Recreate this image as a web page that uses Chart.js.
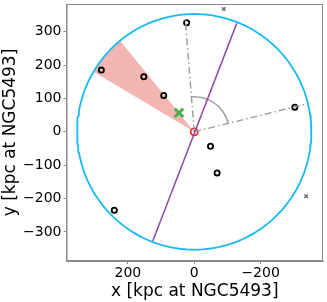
<!DOCTYPE html>
<html>
<head>
<meta charset="utf-8">
<script src="https://cdn.jsdelivr.net/npm/chart.js@4.4.1/dist/chart.umd.min.js"></script>
<style>
  html, body { margin: 0; padding: 0; background: #fff; }
  #wrap { width: 327px; height: 302px; }
</style>
</head>
<body>
<div id="wrap"><canvas id="c"></canvas></div>
<script>
// satellites (black open circles)
const satX = [23, 280, 152, 92, -303, -49, -69, 241];
const satY = [327, 185, 165, 109, 74, -43, -123, -235];
// background objects (grey crosses)
const bgX = [-89, -337];
const bgY = [368, -193];
// green cross
const comX = [46];
const comY = [57];
// host at origin
const hostX = [0];
const hostY = [0];

const viewRadius = 353;
// purple axis endpoints
const axisX = [125, -128];
const axisY = [-327, 325];
// dash-dot rays (from origin)
const rayX = [28, -339];
const rayY = [347, 84];
// angle arc
const arcRadius = 105;
const arcAngles = [85.4, 166]; // degrees
// red wedge
const wedgeAngles = [30.7, 51]; // degrees

const xTicks = [200, 0, -200];
const yTicks = [-300, -200, -100, 0, 100, 200, 300];

const toPts = (xs, ys) => xs.map((x, i) => ({ x: x, y: ys[i] }));

function ringPts(r, a0, a1) {
  var pts = [];
  for (var a = a0; a <= a1 + 0.001; a += 2) {
    var t = a * Math.PI / 180;
    pts.push({ x: r * Math.cos(t), y: r * Math.sin(t) });
  }
  return pts;
}

const fmt = (v) => String(v).replace("-", "\u2212");

const framePlugin = {
  id: "frame",
  beforeDatasetsDraw(chart) {
    const { ctx, scales } = chart;
    const x = scales.x, y = scales.y;
    // wedge
    ctx.save();
    ctx.beginPath();
    ctx.moveTo(x.getPixelForValue(0), y.getPixelForValue(0));
    for (var a = wedgeAngles[0]; a <= wedgeAngles[1] + 0.001; a += 1) {
      var t = a * Math.PI / 180;
      ctx.lineTo(x.getPixelForValue(viewRadius * Math.cos(t)), y.getPixelForValue(viewRadius * Math.sin(t)));
    }
    ctx.closePath();
    ctx.fillStyle = "rgba(234,110,104,0.5)";
    ctx.fill();
    ctx.restore();
  },
  afterDraw(chart) {
    const { ctx, chartArea } = chart;
    ctx.save();
    ctx.strokeStyle = "#8a8a8a";
    ctx.lineWidth = 1;
    ctx.strokeRect(chartArea.left + 0.5, chartArea.top + 0.5, chartArea.right - chartArea.left - 1, chartArea.bottom - chartArea.top - 1);
    ctx.restore();
  },
};

const lineDs = (data, color, width, dash) => ({
  type: "scatter",
  data: data,
  showLine: true,
  borderColor: color,
  borderWidth: width,
  borderDash: dash || [],
  borderJoinStyle: "round",
  pointRadius: 0,
  fill: false,
});

new Chart(document.getElementById("c"), {
  type: "scatter",
  data: {
    datasets: [
      lineDs(ringPts(viewRadius, -90, 272), "#16baf2", 1.8),
      lineDs(toPts(axisX, axisY), "#9448a6", 1.5),
      lineDs([{ x: 0, y: 0 }, { x: rayX[0], y: rayY[0] }], "#9a9a9a", 1.4, [7, 3, 1.5, 3]),
      lineDs([{ x: 0, y: 0 }, { x: rayX[1], y: rayY[1] }], "#9a9a9a", 1.4, [7, 3, 1.5, 3]),
      lineDs(ringPts(arcRadius, arcAngles[0], arcAngles[1]), "#a0a0a0", 1.4),
      {
        data: toPts(satX, satY),
        pointStyle: "circle",
        pointRadius: 2.6,
        borderWidth: 1.8,
        borderColor: "#000",
        backgroundColor: "rgba(0,0,0,0)",
      },
      {
        data: toPts(bgX, bgY),
        pointStyle: "crossRot",
        pointRadius: 2.5,
        borderWidth: 1.5,
        borderColor: "#707070",
      },
      {
        data: toPts(comX, comY),
        pointStyle: "crossRot",
        pointRadius: 6,
        borderWidth: 3,
        borderColor: "#4caf47",
      },
      {
        data: toPts(hostX, hostY),
        pointStyle: "circle",
        pointRadius: 3.6,
        borderWidth: 1.6,
        borderColor: "#ff1a1a",
        backgroundColor: "rgba(0,0,0,0)",
      },
    ],
  },
  options: {
    responsive: true,
    maintainAspectRatio: false,
    animation: false,
    layout: { autoPadding: false, padding: { top: 4, right: 4, left: 0, bottom: 0 } },
    plugins: { legend: { display: false }, tooltip: { enabled: false } },
    scales: {
      x: {
        type: "linear",
        reverse: true,
        min: -388,
        max: 385,
        afterBuildTicks: (s) => { s.ticks = xTicks.map((v) => ({ value: v })); },
        afterFit: (s) => { s.height = 41; s.paddingLeft = 0; s.paddingRight = 0; },
        grid: { drawOnChartArea: false, drawTicks: true, tickLength: 3, color: "#8a8a8a" },
        border: { color: "#8a8a8a" },
        ticks: {
          color: "#000",
          padding: 1,
          maxRotation: 0,
          font: { family: "DejaVu Sans", size: 14 },
          callback: (v) => fmt(v),
        },
        title: {
          display: true,
          text: "x [kpc at NGC5493]",
          color: "#000",
          padding: 0,
          font: { family: "DejaVu Sans", size: 17 },
        },
      },
      y: {
        type: "linear",
        min: -387,
        max: 383,
        afterBuildTicks: (s) => { s.ticks = yTicks.map((v) => ({ value: v })); },
        afterFit: (s) => { s.width = 66.5; s.paddingTop = 0; s.paddingBottom = 0; },
        grid: { drawOnChartArea: false, drawTicks: true, tickLength: 3, color: "#8a8a8a" },
        border: { color: "#8a8a8a" },
        ticks: {
          color: "#000",
          padding: 2,
          font: { family: "DejaVu Sans", size: 14 },
          callback: (v) => fmt(v),
        },
        title: {
          display: true,
          text: "y [kpc at NGC5493]",
          color: "#000",
          padding: 0,
          font: { family: "DejaVu Sans", size: 17 },
        },
      },
    },
  },
  plugins: [framePlugin],
});
</script>
</body>
</html>
